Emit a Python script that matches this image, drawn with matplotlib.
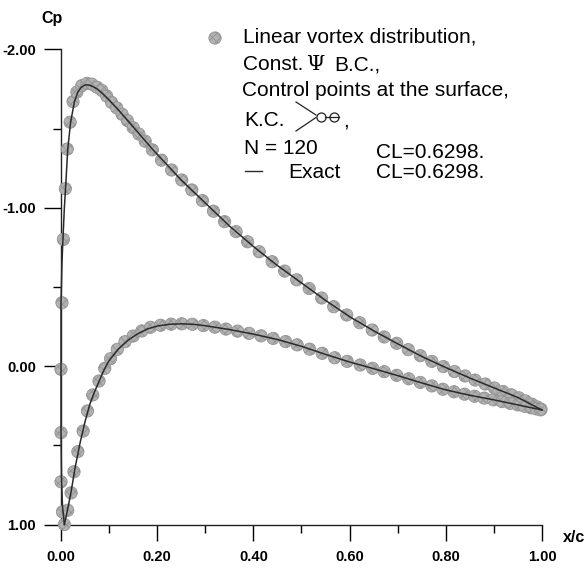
import matplotlib
matplotlib.use("Agg")
import matplotlib.pyplot as plt
from matplotlib.ticker import MultipleLocator

plt.rcParams['font.family'] = ['Liberation Sans', 'DejaVu Sans']
plt.rcParams['hatch.color'] = '#858585'
plt.rcParams['hatch.linewidth'] = 0.6

# panel method, control points (x/c, Cp) - suction side, from the stagnation point aft
upper_x = [0.007, 0.003, 0.000, 0.000, 0.000, 0.002, 0.005, 0.009, 0.013, 0.019,
           0.025, 0.033, 0.043, 0.054, 0.064, 0.075, 0.085, 0.095, 0.105, 0.116,
           0.127, 0.138, 0.150, 0.162, 0.175, 0.190, 0.209, 0.230, 0.251, 0.272,
           0.294, 0.317, 0.340, 0.364, 0.388, 0.412, 0.439, 0.465, 0.490, 0.516,
           0.542, 0.567, 0.594, 0.621, 0.647, 0.672, 0.698, 0.722, 0.747, 0.771,
           0.795, 0.818, 0.840, 0.861, 0.882, 0.901, 0.919, 0.936, 0.952, 0.966,
           0.979, 0.990, 0.998]
upper_cp = [1.00, 0.92, 0.73, 0.42, 0.02, -0.40, -0.80, -1.12, -1.37, -1.54,
            -1.67, -1.73, -1.77, -1.785, -1.78, -1.76, -1.74, -1.705, -1.665, -1.63,
            -1.59, -1.55, -1.505, -1.465, -1.42, -1.365, -1.30, -1.238, -1.175, -1.112,
            -1.045, -0.978, -0.912, -0.849, -0.785, -0.722, -0.659, -0.60, -0.545, -0.49,
            -0.43, -0.375, -0.323, -0.274, -0.228, -0.184, -0.144, -0.104, -0.066, -0.030,
            0.003, 0.034, 0.062, 0.088, 0.113, 0.138, 0.160, 0.181, 0.200, 0.220,
            0.240, 0.258, 0.272]

# pressure side
lower_x = [0.014, 0.021, 0.027, 0.035, 0.046, 0.055, 0.066, 0.079, 0.091, 0.103,
           0.117, 0.133, 0.150, 0.168, 0.186, 0.207, 0.229, 0.251, 0.273, 0.296,
           0.320, 0.343, 0.367, 0.391, 0.416, 0.441, 0.467, 0.491, 0.517, 0.543,
           0.569, 0.595, 0.622, 0.648, 0.672, 0.698, 0.723, 0.747, 0.771, 0.794,
           0.817, 0.839, 0.860, 0.880, 0.899, 0.917, 0.934, 0.950, 0.964, 0.977,
           0.988, 0.997]
lower_cp = [0.91, 0.80, 0.667, 0.54, 0.41, 0.283, 0.182, 0.094, 0.014, -0.047,
            -0.106, -0.154, -0.19, -0.222, -0.245, -0.258, -0.265, -0.267, -0.264, -0.256,
            -0.246, -0.234, -0.221, -0.207, -0.191, -0.175, -0.155, -0.134, -0.107, -0.081,
            -0.053, -0.030, -0.007, 0.014, 0.035, 0.058, 0.080, 0.103, 0.125, 0.146,
            0.162, 0.177, 0.190, 0.202, 0.213, 0.224, 0.235, 0.245, 0.254, 0.263,
            0.270, 0.276]

# exact solution
exact_upper_x = [0.007, 0.003, 0.001, 0.000, 0.000, 0.000, 0.002, 0.004, 0.007, 0.010,
                 0.014, 0.020, 0.028, 0.035, 0.042, 0.050, 0.058, 0.066, 0.075, 0.085,
                 0.100, 0.120, 0.150, 0.190, 0.250, 0.300, 0.350, 0.400, 0.450, 0.500,
                 0.550, 0.600, 0.650, 0.700, 0.750, 0.800, 0.850, 0.900, 0.950, 1.000]
exact_upper_cp = [1.00, 0.88, 0.70, 0.40, 0.00, -0.40, -0.65, -0.80, -1.00, -1.15,
                  -1.37, -1.54, -1.67, -1.73, -1.76, -1.775, -1.775, -1.765, -1.75, -1.725,
                  -1.68, -1.615, -1.51, -1.37, -1.175, -1.03, -0.885, -0.755, -0.635, -0.525,
                  -0.415, -0.312, -0.223, -0.141, -0.061, 0.009, 0.075, 0.137, 0.198, 0.277]
exact_lower_x = [0.007, 0.012, 0.020, 0.030, 0.040, 0.050, 0.060, 0.070, 0.080, 0.090,
                 0.100, 0.120, 0.140, 0.160, 0.180, 0.200, 0.225, 0.250, 0.275, 0.300,
                 0.350, 0.400, 0.450, 0.500, 0.550, 0.600, 0.650, 0.700, 0.750, 0.800,
                 0.850, 0.900, 0.950, 1.000]
exact_lower_cp = [1.00, 0.93, 0.81, 0.63, 0.48, 0.35, 0.24, 0.16, 0.09, 0.02,
                  -0.035, -0.11, -0.165, -0.205, -0.235, -0.253, -0.264, -0.267, -0.264, -0.255,
                  -0.231, -0.202, -0.168, -0.125, -0.074, -0.026, 0.016, 0.060, 0.106, 0.150,
                  0.184, 0.213, 0.245, 0.277]

x_ticks = [0.0, 0.2, 0.4, 0.6, 0.8, 1.0]
x_ticklabels = ["0.00", "0.20", "0.40", "0.60", "0.80", "1.00"]
y_ticks = [-2.0, -1.0, 0.0, 1.0]
y_ticklabels = ["-2.00", "-1.00", "0.00", "1.00"]
n_panels = 120
cl_panel = 0.6298
cl_exact = 0.6298

MARKER_FC = '#b2b2b2'
MARKER_EC = '#939393'
LINE_C = '#2a2a2a'

fig = plt.figure(figsize=(5.86, 5.72), dpi=100)
ax = fig.add_axes([0.1041, 0.0830, 0.8208, 0.8308])

ax.scatter(upper_x, upper_cp, s=78, c=MARKER_FC, edgecolors=MARKER_EC, linewidths=0.6,
           hatch='xxxx', zorder=3, clip_on=False)
ax.scatter(lower_x, lower_cp, s=78, c=MARKER_FC, edgecolors=MARKER_EC, linewidths=0.6,
           hatch='xxxx', zorder=3, clip_on=False)
ax.plot(exact_upper_x, exact_upper_cp, color=LINE_C, lw=1.1, zorder=4, clip_on=False)
ax.plot(exact_lower_x, exact_lower_cp, color=LINE_C, lw=1.1, zorder=4, clip_on=False)

ax.set_xlim(0, 1)
ax.set_ylim(1.0, -2.0)
ax.set_xticks(x_ticks)
ax.set_xticklabels(x_ticklabels, fontweight='bold', fontsize=10.5)
ax.set_yticks(y_ticks)
ax.set_yticklabels(y_ticklabels, fontweight='bold', fontsize=10.5)
ax.xaxis.set_minor_locator(MultipleLocator(0.1))
ax.yaxis.set_minor_locator(MultipleLocator(0.5))
ax.tick_params(axis='x', which='major', direction='out', length=11.5, width=1.0, pad=7)
ax.tick_params(axis='y', which='major', direction='out', length=12, width=1.0, pad=6)
ax.tick_params(which='minor', direction='out', length=6, width=1.0)
for side in ['top', 'right']:
    ax.spines[side].set_visible(False)
for side in ['left', 'bottom']:
    ax.spines[side].set_linewidth(1.0)
    ax.spines[side].set_color('#222222')

# overlay in pixel units for labels and the legend block
ov = fig.add_axes([0, 0, 1, 1])
ov.set_xlim(0, 586)
ov.set_ylim(572, 0)
ov.axis('off')
ov.set_facecolor('none')

ov.text(52, 19, "Cp", fontsize=11.5, fontweight='bold', ha='center', va='center')
ov.text(574, 538, "x/c", fontsize=11.5, fontweight='bold', ha='center', va='center')

ov.scatter([215], [38], s=78, c=MARKER_FC, edgecolors=MARKER_EC, linewidths=0.6, hatch='xxxx')
fs = 15
ov.text(243, 37, "Linear vortex distribution,", fontsize=fs, va='center')
ov.text(243, 65, "Const.", fontsize=fs, va='center')
ov.text(306, 64, "\u03a8", fontsize=15, va='center', family=['DejaVu Serif'])
ov.text(334, 65, "B.C.,", fontsize=fs, va='center')
ov.text(242, 90, "Control points at the surface,", fontsize=fs, va='center')
ov.text(244, 121, "K.C.", fontsize=fs, va='center')
# trailing edge sketch
ov.plot([296, 316], [102, 115], color='#222222', lw=0.9)
ov.plot([296, 316], [131, 117.5], color='#222222', lw=0.9)
ov.plot([320.5], [116.5], marker='o', ms=6.5, mfc='white', mec='#222222', mew=0.9)
ov.plot([325, 329], [116.5, 116.5], color='#222222', lw=0.9)
ov.plot([333.5], [116.5], marker='o', ms=6.5, mfc='white', mec='#222222', mew=0.9)
ov.plot([328.5, 338.5], [116.5, 116.5], color='#222222', lw=0.9)
ov.text(343, 121, ",", fontsize=fs, va='center')
ov.text(244, 148, f"N = {n_panels}", fontsize=fs, va='center')
ov.text(376, 153, f"CL={cl_panel:.4f}.", fontsize=fs, va='center')
ov.plot([245, 262], [171, 171], color=LINE_C, lw=1.0)
ov.text(288, 172, "Exact", fontsize=fs, va='center')
ov.text(376, 172, f"CL={cl_exact:.4f}.", fontsize=fs, va='center')

fig.savefig("out.png", dpi=100)
